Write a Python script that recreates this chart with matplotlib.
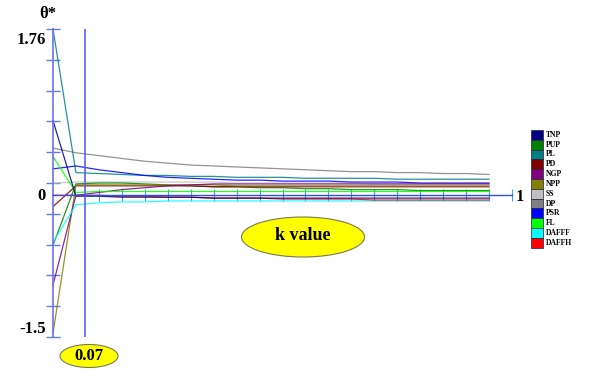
import matplotlib.pyplot as plt
from matplotlib.patches import Ellipse, Rectangle

# k values of the sample points
k_values = [0.0, 0.05, 0.1, 0.15, 0.2, 0.25, 0.3, 0.35, 0.4, 0.45,
            0.5, 0.55, 0.6, 0.65, 0.7, 0.75, 0.8, 0.85, 0.9, 0.95]

names = ["TNP", "PUP", "PL", "PD", "NGP", "NPP", "SS", "DP", "PSR", "FL", "DAFFF", "DAFFH"]
colors = ["#000080", "#008000", "#008080", "#800000", "#800080", "#808000",
          "#c0c0c0", "#808080", "#0000ff", "#00ff00", "#00ffff", "#ff0000"]

tnp = [0.79, -0.01, -0.01, -0.02, -0.02, -0.02, -0.02, -0.03, -0.03, -0.03,
       -0.03, -0.03, -0.03, -0.03, -0.03, -0.03, -0.03, -0.03, -0.03, -0.03]
pup = [-0.53, 0.12, 0.13, 0.13, 0.12, 0.11, 0.10, 0.09, 0.09, 0.08,
       0.08, 0.07, 0.07, 0.06, 0.06, 0.06, 0.05, 0.05, 0.05, 0.05]
pl = [1.76, 0.24, 0.23, 0.22, 0.21, 0.21, 0.20, 0.20, 0.19, 0.19,
      0.19, 0.18, 0.18, 0.18, 0.18, 0.17, 0.17, 0.17, 0.17, 0.17]
pd = [-0.12, 0.10, 0.10, 0.10, 0.10, 0.10, 0.10, 0.09, 0.09, 0.09,
      0.09, 0.09, 0.09, 0.09, 0.09, 0.09, 0.09, 0.09, 0.09, 0.09]
ngp = [-0.95, 0.0, 0.03, 0.06, 0.08, 0.10, 0.11, 0.12, 0.12, 0.12,
       0.12, 0.12, 0.12, 0.12, 0.12, 0.12, 0.12, 0.12, 0.12, 0.12]
npp = [-1.46, 0.11, 0.11, 0.11, 0.11, 0.11, 0.11, 0.11, 0.10, 0.10,
       0.10, 0.10, 0.10, 0.10, 0.10, 0.10, 0.10, 0.10, 0.10, 0.10]
ss = [0.13, 0.14, 0.14, 0.14, 0.14, 0.14, 0.14, 0.14, 0.13, 0.13,
      0.13, 0.13, 0.13, 0.13, 0.12, 0.12, 0.12, 0.12, 0.12, 0.12]
dp = [0.50, 0.45, 0.42, 0.39, 0.36, 0.34, 0.32, 0.31, 0.30, 0.29,
      0.28, 0.27, 0.26, 0.25, 0.25, 0.24, 0.24, 0.23, 0.23, 0.22]
psr = [0.28, 0.31, 0.27, 0.24, 0.21, 0.19, 0.18, 0.17, 0.16, 0.16,
       0.15, 0.15, 0.15, 0.14, 0.14, 0.14, 0.13, 0.13, 0.13, 0.13]
fl = [0.41, 0.03, 0.04, 0.04, 0.04, 0.04, 0.04, 0.04, 0.04, 0.04,
      0.04, 0.04, 0.04, 0.04, 0.04, 0.04, 0.04, 0.04, 0.04, 0.04]
dafff = [-0.50, -0.10, -0.08, -0.07, -0.07, -0.06, -0.06, -0.06, -0.06, -0.06,
         -0.06, -0.06, -0.06, -0.06, -0.06, -0.06, -0.06, -0.06, -0.06, -0.06]
daffh = [0.0, 0.0, 0.0, -0.01, -0.01, -0.02, -0.02, -0.03, -0.03, -0.03,
         -0.04, -0.04, -0.04, -0.04, -0.05, -0.05, -0.05, -0.05, -0.05, -0.05]

series = [tnp, pup, pl, pd, ngp, npp, ss, dp, psr, fl, dafff, daffh]

y_top, y_bottom = 1.76, -1.5
k_marker = 0.07

W, H = 589, 379
fig = plt.figure(figsize=(W / 100, H / 100), dpi=100)
ax = fig.add_axes([53 / W, 1 - 337 / H, (512 - 53) / W, (337 - 29) / H])
ax.set_xlim(0, 1)
ax.set_ylim(y_bottom, y_top)

# draw order: put the light lines first
order = [6, 7, 2, 8, 1, 3, 5, 4, 9, 10, 11, 0]
for i in order:
    ax.plot(k_values, series[i], color=colors[i], lw=0.9, alpha=0.85, clip_on=False)

for s in ["top", "right"]:
    ax.spines[s].set_visible(False)
ax.spines["bottom"].set_position(("data", 0))
ax.spines["bottom"].set_color("#3050e0")
ax.spines["bottom"].set_linewidth(1.0)
ax.spines["left"].set_color("#7070f0")
ax.spines["left"].set_linewidth(1.2)
ax.set_zorder(1)

xt = [0.1, 0.15, 0.2, 0.25, 0.3, 0.35, 0.4, 0.45, 0.5, 0.55, 0.6, 0.65,
      0.7, 0.75, 0.8, 0.85, 0.9, 0.95, 1.0]
yt = [-1.5 + 0.326 * i for i in range(11)]
ax.set_xticks(xt)
ax.set_yticks(yt)
ax.set_xticklabels([])
ax.set_yticklabels([])
ax.tick_params(axis="x", direction="inout", length=9, width=0.8, color="#40a0f0")
ax.tick_params(axis="y", direction="inout", length=10, width=1.0, color="#6080e0")

ax.axvline(k_marker, color="#6060e8", lw=1.2)

font = dict(family="Liberation Serif", weight="bold")
fig.text(48 / W, 1 - 14 / H, "θ*", ha="center", va="center", fontsize=12, **font)
fig.text(46 / W, 1 - 40 / H, "1.76", ha="right", va="center", fontsize=12, **font)
fig.text(46 / W, 1 - 196 / H, "0", ha="right", va="center", fontsize=12, **font)
fig.text(46 / W, 1 - 329 / H, "-1.5", ha="right", va="center", fontsize=12, **font)
fig.text(516 / W, 1 - 197 / H, "1", ha="left", va="center", fontsize=12, **font)

e1 = Ellipse((89 / W, 1 - 356 / H), 58 / W, 23 / H, transform=fig.transFigure,
             facecolor="#ffff00", edgecolor="#7a7a50", lw=0.8)
e2 = Ellipse((303 / W, 1 - 237 / H), 123 / W, 40 / H, transform=fig.transFigure,
             facecolor="#ffff00", edgecolor="#7a7a50", lw=0.8)
fig.patches.extend([e1, e2])
fig.text(89 / W, 1 - 356 / H, "0.07", ha="center", va="center", fontsize=12, **font)
fig.text(303 / W, 1 - 236 / H, "k value", ha="center", va="center", fontsize=13, **font)

# legend boxes
box_top = 130
box_h = 9.8
for i, (name, c) in enumerate(zip(names, colors)):
    y0 = box_top + i * box_h
    r = Rectangle((531 / W, 1 - (y0 + box_h) / H), 12 / W, box_h / H,
                  transform=fig.transFigure, facecolor=c, edgecolor="#202040", lw=0.5)
    fig.patches.append(r)
    fig.text(546 / W, 1 - (y0 + box_h / 2) / H, name, ha="left", va="center",
             fontsize=5.5, **font)

fig.savefig("out.png", dpi=100)
